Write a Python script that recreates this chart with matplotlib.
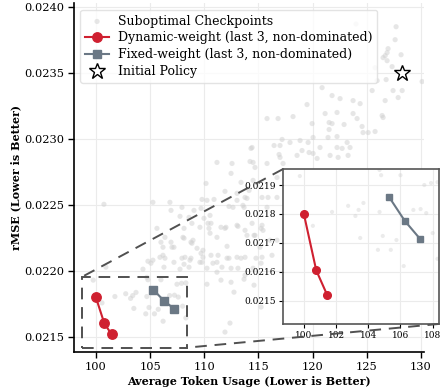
import matplotlib
matplotlib.use("Agg")
import matplotlib.pyplot as plt
from mpl_toolkits.axes_grid1.inset_locator import mark_inset

plt.rcParams['font.family'] = ['DejaVu Serif']

# suboptimal checkpoints (token usage, rMSE)
sub_x = [127.70, 127.61, 126.96, 126.87, 126.69, 126.50, 126.87, 128.16, 127.33, 125.76,
         125.95, 125.49, 126.78, 128.26, 127.42, 127.89, 126.69, 126.41, 126.50, 130.10,
         120.87, 121.79, 122.53, 123.73, 124.38, 119.48, 121.15, 122.25, 123.73, 124.10,
         121.52, 121.79, 122.90, 124.56, 124.65, 125.12, 125.76, 118.19, 116.81, 115.79,
         119.95, 121.52, 120.04, 117.18, 116.44, 116.99, 117.91, 118.84, 119.58, 121.42,
         122.25, 123.18, 120.68, 122.25, 122.72, 123.45, 119.02, 119.67, 120.04, 118.56,
         121.61, 123.27, 116.99, 120.41, 122.35, 114.50, 117.27, 115.79, 112.56, 114.41,
         124.00,
         100.74, 105.26, 106.83, 106.93, 107.94, 107.76, 108.59, 109.05, 109.70, 109.79,
         110.25, 110.90, 110.16, 111.17, 112.47, 113.39, 111.91, 112.28, 113.02, 112.65,
         113.94, 113.67, 114.22, 114.31, 105.63, 109.97, 110.62, 112.00, 113.02,
         113.02, 113.57, 113.76, 114.13, 114.68, 114.50, 115.33, 115.88, 115.79, 116.71,
         116.71, 116.90, 110.53, 110.34, 110.53, 109.60, 108.86, 108.13, 108.03, 108.96,
         108.86, 109.33, 109.88, 109.88, 109.60, 108.22, 107.94, 108.68, 106.19, 105.91,
         106.37, 105.26, 104.80, 106.37, 106.19, 107.02, 111.17, 111.91, 112.10, 111.27,
         110.80, 112.10, 113.02, 113.11, 113.76, 114.41, 114.68, 115.33, 115.42, 116.07,
         115.14, 113.76, 115.33, 116.25, 116.71, 113.11, 114.50, 111.17, 107.76, 104.34,
         113.76,
         110.43, 111.54, 113.94, 114.59, 115.24, 108.13, 108.77, 107.20, 106.93, 106.00,
         105.08, 106.28, 107.20, 108.13, 108.77, 108.59, 109.70, 109.79, 110.25, 110.62,
         111.17, 111.63, 112.28, 112.47, 113.39, 114.77, 115.24, 110.25, 111.54, 112.47,
         113.67, 114.59, 112.74, 115.24, 100.92, 112.37, 111.91, 107.48,
         99.75, 101.75, 102.75, 103.40, 103.20, 103.70, 100.56, 103.50, 104.70, 104.90,
         104.60, 105.40, 105.75, 106.20, 106.80, 107.25, 107.60, 108.00, 108.30, 104.80,
         106.00, 107.90, 108.30, 104.70]
sub_y = [0.023849, 0.023751, 0.023683, 0.023653, 0.023630, 0.023615, 0.023592, 0.023637, 0.023547, 0.023539,
         0.023441, 0.023366, 0.023449, 0.023366, 0.023366, 0.023313, 0.023290, 0.023177, 0.023162, 0.023434,
         0.023388, 0.023328, 0.023305, 0.023290, 0.023267, 0.023260, 0.023192, 0.023200, 0.023192, 0.023154,
         0.023124, 0.023116, 0.023109, 0.023094, 0.023048, 0.023048, 0.023056, 0.023169, 0.023154, 0.023154,
         0.023116, 0.023071, 0.023011, 0.022996, 0.022950, 0.022950, 0.022973, 0.022988, 0.022973, 0.023011,
         0.023018, 0.022973, 0.022935, 0.022935, 0.022928, 0.022935, 0.022912, 0.022897, 0.022890, 0.022875,
         0.022875, 0.022875, 0.022860, 0.022852, 0.022860, 0.022822, 0.022814, 0.022814, 0.022814, 0.022935,
         0.023870,
         0.022505, 0.022520, 0.022520, 0.022459, 0.022482, 0.022414, 0.022406, 0.022459, 0.022474, 0.022542,
         0.022535, 0.022542, 0.022663, 0.022822, 0.022739, 0.022671, 0.022603, 0.022489, 0.022535, 0.022482,
         0.022550, 0.022482, 0.022829, 0.022928, 0.022323, 0.022399, 0.022361, 0.022331, 0.022346,
         0.022588, 0.022497, 0.022557, 0.022610, 0.022784, 0.022686, 0.022557, 0.022557, 0.022482, 0.022557,
         0.022708, 0.022882, 0.022421, 0.022361, 0.022286, 0.022331, 0.022361, 0.022323, 0.022255, 0.022233,
         0.022210, 0.022172, 0.022157, 0.022104, 0.022066, 0.022104, 0.022097, 0.022082, 0.022119, 0.022104,
         0.022097, 0.022082, 0.022074, 0.022255, 0.022180, 0.022180, 0.022255, 0.022323, 0.022187, 0.022119,
         0.022059, 0.022097, 0.022104, 0.022338, 0.022308, 0.022361, 0.022270, 0.022346, 0.022308, 0.022233,
         0.022180, 0.022104, 0.022104, 0.022119, 0.022233, 0.022021, 0.022021, 0.021991, 0.022014, 0.022014,
         0.021968,
         0.022323, 0.022331, 0.022270, 0.022270, 0.022323, 0.022248, 0.022218, 0.022180, 0.022218, 0.022218,
         0.022059, 0.022029, 0.022066, 0.022051, 0.022097, 0.022029, 0.022134, 0.022066, 0.022021, 0.022119,
         0.022066, 0.022029, 0.022097, 0.022021, 0.022097, 0.022097, 0.022059, 0.021900, 0.021931, 0.021915,
         0.021938, 0.021893, 0.021840, 0.021727, 0.022029, 0.021606, 0.021538, 0.021900,
         0.021931, 0.021807, 0.021828, 0.021814, 0.021793, 0.021838, 0.021759, 0.021717, 0.021807, 0.021724,
         0.021676, 0.021676, 0.021710, 0.021620, 0.021814, 0.021817, 0.021803, 0.021734, 0.021645, 0.021934,
         0.021934, 0.021907, 0.021910, 0.021952]

dyn_x = [100.0, 100.77, 101.44]
dyn_y = [0.02180, 0.021605, 0.021521]
fix_x = [105.3, 106.27, 107.2]
fix_y = [0.021858, 0.021776, 0.021715]
init_x, init_y = 128.2, 0.02350

RED = '#cf2030'
SLATE = '#6b7885'
GRAY = '#cfcfcf'


def draw(ax, small=False):
    ax.scatter(sub_x, sub_y, s=9 if small else 14, color=GRAY, alpha=0.4 if small else 0.5,
               edgecolors='none', label='Suboptimal Checkpoints', zorder=1)
    ax.plot(dyn_x, dyn_y, '-o', color=RED, lw=1.5, ms=5.5 if small else 6.8,
            label='Dynamic-weight (last 3, non-dominated)', zorder=3)
    ax.plot(fix_x, fix_y, '-s', color=SLATE, lw=1.5, ms=5 if small else 6,
            label='Fixed-weight (last 3, non-dominated)', zorder=3)
    ax.plot([init_x], [init_y], marker='*', ls='none', ms=12, mfc='white', mec='black',
            mew=1.0, label='Initial Policy', zorder=4)


fig = plt.figure(figsize=(4.4, 3.87), dpi=100)
ax = fig.add_axes([0.168, 0.0904, 0.796, 0.9006])
draw(ax)
ax.set_xlim(97.97, 130.29)
ax.set_ylim(0.021387, 0.024025)
ax.set_xticks([100, 105, 110, 115, 120, 125, 130])
ax.set_yticks([0.0215, 0.0220, 0.0225, 0.0230, 0.0235, 0.0240])
ax.yaxis.set_major_formatter(matplotlib.ticker.FormatStrFormatter('%.4f'))
ax.grid(True, color='#ebebeb', lw=0.8)
ax.set_axisbelow(True)
for side in ['top', 'right']:
    ax.spines[side].set_visible(False)
for side in ['left', 'bottom']:
    ax.spines[side].set_linewidth(1.2)
ax.tick_params(labelsize=8.2, length=4, width=1, pad=3)
ax.set_xlabel('Average Token Usage (Lower is Better)', fontsize=8, fontweight='bold', labelpad=3)
ax.set_ylabel('rMSE (Lower is Better)', fontsize=8, fontweight='bold', labelpad=2)
leg = ax.legend(loc='upper left', bbox_to_anchor=(0.0, 1.0), fontsize=9, frameon=True,
                handlelength=1.9, handletextpad=0.7, borderpad=0.4, labelspacing=0.3)
leg.get_frame().set_edgecolor('#dddddd')

axins = fig.add_axes([0.643, 0.163, 0.355, 0.4])
draw(axins, small=True)
axins.set_xlim(98.7, 108.4)
axins.set_ylim(0.021420, 0.021955)
axins.set_xticks([100, 102, 104, 106, 108])
axins.set_yticks([0.0215, 0.0216, 0.0217, 0.0218, 0.0219])
axins.yaxis.set_major_formatter(matplotlib.ticker.FormatStrFormatter('%.4f'))
axins.grid(True, color='#ebebeb', lw=0.8)
axins.set_axisbelow(True)
axins.tick_params(labelsize=6.5, length=3, width=0.8, pad=2)
for sp in axins.spines.values():
    sp.set_edgecolor('#555555')
    sp.set_linewidth(1.2)

mark_inset(ax, axins, loc1=2, loc2=4, fc='none', ec='#505050', ls=(0, (6, 4)), lw=1.4)

fig.savefig('out.png', dpi=100)
